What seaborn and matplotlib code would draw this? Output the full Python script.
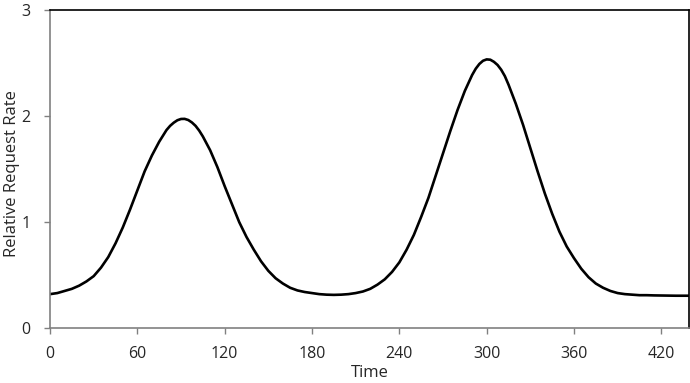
import numpy as np
import pandas as pd
import seaborn as sns
import matplotlib
matplotlib.use("Agg")
import matplotlib.pyplot as plt

# time axis: readings every 5 units, every 2.5 around the two peaks
time = (list(range(0, 80, 5))
        + [80, 82.5, 85, 87.5, 90, 92.5, 95, 97.5, 100, 102.5]
        + list(range(105, 290, 5))
        + [290, 292.5, 295, 297.5, 300, 302.5, 305, 307.5, 310, 312.5]
        + list(range(315, 445, 5)))

# relative request rate
rate = (
    [0.32, 0.33, 0.35, 0.37, 0.40, 0.44, 0.49, 0.57, 0.67, 0.80,     # 0-45
     0.95, 1.12, 1.30, 1.48, 1.63, 1.76]                              # 50-75
    + [1.87, 1.91, 1.94, 1.963, 1.975, 1.976, 1.965, 1.942, 1.91, 1.865]  # 80-102.5
    + [1.81, 1.68, 1.52, 1.34, 1.17, 1.00, 0.86, 0.74, 0.63,          # 105-145
       0.54, 0.47, 0.42, 0.38, 0.355, 0.34, 0.33, 0.32, 0.315, 0.313, # 150-195
       0.315, 0.32, 0.33, 0.345, 0.37, 0.41, 0.46, 0.53, 0.62, 0.74,  # 200-245
       0.88, 1.05, 1.23, 1.44, 1.65, 1.86, 2.06, 2.24]                # 250-285
    + [2.39, 2.45, 2.495, 2.525, 2.538, 2.535, 2.515, 2.485, 2.44, 2.38]  # 290-312.5
    + [2.30, 2.12, 1.92, 1.70, 1.48, 1.27, 1.08,                      # 315-345
       0.91, 0.77, 0.66, 0.56, 0.48, 0.42, 0.38, 0.35, 0.33, 0.32,    # 350-395
       0.315, 0.31, 0.31, 0.308, 0.307, 0.306, 0.305, 0.305, 0.305]   # 400-440
)

x_ticks = [0, 60, 120, 180, 240, 300, 360, 420]
y_ticks = [0, 1, 2, 3]

df = pd.DataFrame({"Time": time, "Rate": rate})

sns.set_style("white")
plt.rcParams["font.family"] = ["Open Sans", "DejaVu Sans"]

fig = plt.figure(figsize=(6.9, 3.83), dpi=100)
ax = fig.add_axes([0.0725, 0.1436, 0.926, 0.829])

sns.lineplot(data=df, x="Time", y="Rate", color="black", linewidth=1.9,
             solid_joinstyle="round", ax=ax)

ax.set_xlim(0, 439)
ax.set_ylim(0, 3)
ax.set_xticks(x_ticks)
ax.set_yticks(y_ticks)
ax.set_xlabel("Time", fontsize=12)
ax.set_ylabel("Relative Request Rate", fontsize=12)
ax.xaxis.set_label_coords(0.5, -0.118)
ax.yaxis.set_label_coords(-0.047, 0.487)

for side in ["left", "bottom"]:
    ax.spines[side].set_color("#808080")
    ax.spines[side].set_linewidth(1.2)
for side in ["top", "right"]:
    ax.spines[side].set_color("black")
    ax.spines[side].set_linewidth(1.2)
    ax.spines[side].set_visible(True)

ax.tick_params(axis="both", direction="out", length=4, width=1, color="#808080",
               labelsize=11.5, bottom=True, left=True)
ax.tick_params(axis="x", pad=9)
ax.tick_params(axis="y", pad=10)

fig.savefig("out.png", dpi=100)
